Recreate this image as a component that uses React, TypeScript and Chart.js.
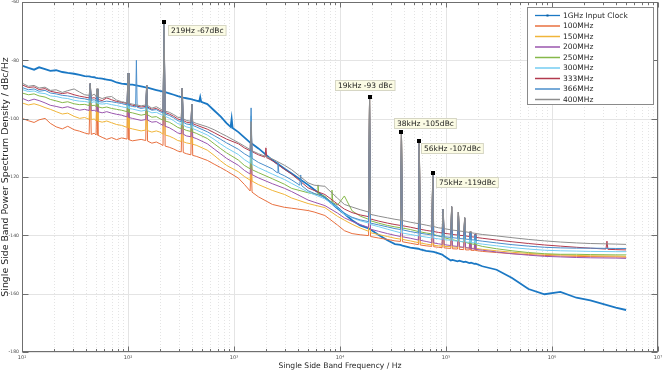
import React, { useEffect, useRef } from 'react';
import { Chart, registerables } from 'chart.js';
Chart.register(...registerables);

const _ = null;

// Shared frequency grid (Hz)
const freqs = [
  10, 11.5, 13, 14.5, 16.5, 18.5, 21, 24, 27, 31,
  35, 39, 43, 44, 45, 48, 50, 51, 52, 57,
  63, 70, 78, 87, 98, 100, 102, 110, 118, 120,
  122, 133, 147, 150, 153, 168, 185, 200, 214, 219,
  224, 245, 270, 295, 318, 325, 332, 355, 392, 400,
  408, 440, 470, 480, 490, 560, 650, 750, 850, 930,
  950, 970, 1100, 1250, 1420, 1450, 1480, 1700, 1960, 2000,
  2040, 2300, 2550, 2600, 2650, 3000, 3500, 4170, 4260, 4350,
  5000, 5700, 6080, 6200, 6320, 7200, 8230, 8400, 8570, 9500,
  11000, 13000, 15500, 18600, 19000, 19400, 23000, 28000, 33000, 37200,
  38000, 38800, 46000, 54900, 56000, 57100, 65000, 73500, 75000, 76500,
  85000, 92000, 94000, 96000, 111000, 113000, 115000, 128500, 131000, 133500,
  147000, 150000, 153000, 166000, 169000, 172000, 185000, 188000, 191000, 220000,
  300000, 420000, 600000, 850000, 1200000, 1700000, 2300000, 3230000, 3300000, 3370000,
  4000000, 5000000,
];

const clock1G = [
  -81.8, -82.6, -83.2, -82.4, -83, -83.6, -83.4, -84, -84.3, -84.6,
  -85, -85.4, -85.5, _, -85.7, -85.8, -86, _, -86.1, -86.3,
  -86.6, -86.9, -87.6, -88, -88.2, _, -88.3, -88.3, _, _,
  _, -88.9, -89.3, _, -89.4, -89.8, -90.2, -90.5, -90.7, _,
  -90.9, -91.3, -91.8, -92.3, -92.6, _, -92.8, -93, -93.3, _,
  -93.5, -93.8, -94.1, -92.6, -94.2, -95, -97.2, -99.3, -101.5, -102.8,
  -100, -103.2, -104.6, -106.4, -108.2, _, -108.6, -110.2, _, _,
  _, -114.2, _, _, _, -117.2, -118.8, _, _, _,
  -122.7, -124.3, _, _, _, -127, _, _, _, -130.8,
  -132.6, -134.8, -136.6, -137.6, _, -138, -139.8, -141.7, -143, -143.3,
  _, -143.5, -144.2, -144.6, _, -144.8, -145.3, -145.6, _, -145.7,
  -146.2, -146.6, _, -147.1, -148.6, _, -148.4, -148.9, _, -148.7,
  -149.2, _, -149, -149.5, _, -149.4, -149.8, _, -149.7, -150.6,
  -151.8, -154.6, -158.4, -160.2, -159.4, -161.4, -162.3, _, _, _,
  -164.8, -165.6,
];

const s100 = [
  -99.9, -100.7, -101.3, -100.4, -99.9, -101.6, -102.8, -103.5, -102.6, -103.8,
  -104.3, -104.9, -105.3, -88, -105.4, -105, -105.6, -89.8, -105.7, -106.4,
  -107.1, -106.5, -107.2, -106.6, -107, -84.5, -107.2, -107.6, _, _,
  _, -107.1, -107.5, -88.5, -107.7, -108.4, -108, -108.6, -109.2, -67,
  -109.4, -109.8, -110.4, -111.1, -111.4, -89.6, -111.6, -112, -112.4, -95,
  -112.6, -112.9, _, _, _, -114.3, -115.6, -116.8, -117.9, _,
  _, _, -120.4, -122.5, -124.8, -114, -125.2, -126.8, _, _,
  _, -129.4, _, _, _, -130.4, -130.7, _, _, _,
  -131.5, -132, _, _, _, -133.2, _, _, _, -136.5,
  -138.4, -139.4, -139.8, -140.1, -92.7, -140.4, -140.9, -141.4, -141.9, -142.1,
  -104.7, -142.2, -142.7, -143.2, -107.6, -143.3, -143.6, -143.8, -118.5, -143.9,
  -144.1, -144.2, -131, -144.3, -144.5, -130.2, -144.6, -144.7, -132, -144.8,
  -144.9, -134, -145, -145, -138.9, -145.1, -145.2, -139.8, -145.2, -145.5,
  -145.9, -146.3, -146.6, -146.9, -147.1, -147.2, -147.3, _, _, _,
  -147.4, -147.5,
];

const s150 = [
  -94.6, -95.3, -94.9, -95.4, -96.2, -96.8, -97.6, -98.4, -98.1, -99.2,
  -99.9, -99.6, -100.2, -88, -100.3, -100.1, -100.7, -89.8, -100.8, -101.2,
  -100.8, -101.4, -102, -102.3, -103, -84.5, -103.2, -103.5, _, _,
  _, -104.2, -103.9, -88.5, -104.1, -104.6, -104.2, -104.6, -105.3, -67,
  -105.6, -106, -106.7, -107.5, -107.8, -89.6, -107.9, -108.3, -108.6, -95,
  -108.8, -109.1, _, _, _, -110.8, -112.6, -114.5, -116, _,
  _, _, -118.2, -119.8, -121.1, -112, -121.4, -122.6, _, _,
  _, -124.6, _, _, _, -126, -127.2, _, _, _,
  -129.1, -129.6, _, _, _, -130.5, _, _, _, -133.5,
  -134.8, -136.2, -137.5, -138.6, -92.7, -139.1, -139.7, -140.4, -141, -141.3,
  -104.7, -141.4, -141.9, -142.5, -107.6, -142.6, -143, -143.3, -118.5, -143.4,
  -143.6, -143.7, -131, -143.8, -143.9, -130.2, -144, -144.1, -132, -144.1,
  -144.2, -134, -144.3, -144.3, -138.9, -144.4, -144.5, -139.8, -144.5, -144.8,
  -145.3, -145.8, -146.2, -146.5, -146.7, -146.9, -147, _, _, _,
  -147.1, -147.2,
];

const s200 = [
  -93, -93.9, -93.3, -93.8, -94.6, -95.4, -95.8, -96.3, -95.9, -96.6,
  -97.1, -96.8, -97.2, -88, -97.3, -97.1, -97.5, -89.8, -97.6, -98,
  -97.6, -98.1, -98.5, -98.8, -99.4, -84.5, -99.6, -99.9, _, _,
  _, -100.6, -100.3, -88.5, -100.5, -101.2, -101, -101.7, -102.3, -67,
  -102.6, -103.1, -104, -104.9, -105.2, -89.6, -105.3, -105.9, -106.2, -95,
  -106.4, -106.8, _, _, _, -108.6, -110.4, -112.1, -113.6, _,
  _, _, -116, -117.7, -119, -110, -119.2, -120.3, _, _,
  _, -122.3, _, _, _, -123.9, -125, _, _, _,
  -127.9, -128.6, _, _, _, -129.8, _, _, _, -132.4,
  -134, -135.2, -136.3, -137.3, -92.7, -137.9, -138.6, -139.4, -140, -140.4,
  -104.7, -140.5, -141, -141.6, -107.6, -141.7, -142.1, -142.5, -118.5, -142.6,
  -142.9, -143.1, -131, -143.2, -143.5, -130.2, -143.6, -143.8, -132, -143.9,
  -144.1, -134, -144.2, -144.4, -138.9, -144.5, -144.7, -139.8, -144.8, -145.1,
  -145.7, -146.3, -146.8, -147.2, -147.4, -147.6, -147.7, _, _, _,
  -147.8, -147.9,
];

const s250 = [
  -91.2, -91.8, -91.5, -92.2, -92.6, -93.4, -93.9, -94.5, -94.2, -94.9,
  -95.2, -95.1, -95.5, -88, -95.6, -95.4, -95.8, -89.8, -95.9, -96.3,
  -96, -96.5, -96.8, -97.1, -97.6, -84.5, -97.8, -98, _, _,
  _, -98.8, -98.5, -88.5, -98.7, -99.5, -99.3, -100, -100.5, -67,
  -100.8, -101.2, -102.1, -103, -103.4, -89.6, -103.5, -104, -104.4, -95,
  -104.6, -105, _, _, _, -106.8, -108.6, -110.3, -111.7, _,
  _, _, -114.2, -116, -117.2, -108, -117.5, -118.5, _, _,
  _, -120.6, _, _, _, -122.5, -123.9, _, _, _,
  -125.4, -125.8, -126, -122.7, -126.1, -126.6, -128.6, -124.5, -128.8, -129.6,
  -126.5, -131.6, -133.4, -134.5, -92.7, -135, -135.8, -136.6, -137.1, -137.4,
  -104.7, -137.5, -138, -138.7, -107.6, -138.8, -139.2, -139.5, -118.5, -139.7,
  -140.2, -140.6, -131, -140.8, -141.4, -130.2, -141.5, -141.9, -132, -142,
  -142.3, -134, -142.4, -142.8, -138.9, -142.9, -143.1, -139.8, -143.2, -143.8,
  -144.6, -145.3, -145.9, -146.3, -146.5, -146.5, -146.6, _, _, _,
  -146.7, -146.7,
];

const s300 = [
  -90, -90.7, -90.5, -91.2, -91.4, -92.2, -92.4, -92.9, -93.1, -93.7,
  -94, -94.1, -94.4, -88, -94.5, -94.2, -94.7, -89.8, -94.8, -95,
  -94.8, -95.2, -95.5, -95.9, -96.3, -84.5, -96.5, -96.7, _, _,
  _, -97.4, -97.1, -88.5, -97.3, -98, -97.8, -98.4, -98.9, -67,
  -99.2, -99.8, -100.7, -101.7, -102, -89.6, -102.2, -102.8, -103.2, -95,
  -103.4, -103.9, _, _, _, -105.6, -107.1, -108.7, -110, _,
  _, _, -112.3, -114, -115.3, -99, -115.6, -116.8, _, _,
  _, -119, _, _, _, -120.9, -122.2, _, _, _,
  -125.2, -126, _, _, _, -127.5, _, _, _, -130.6,
  -132.8, -134, -135, -135.8, -92.7, -136.3, -137, -137.9, -138.6, -139.1,
  -104.7, -139.2, -139.7, -140.2, -107.6, -140.3, -140.6, -140.9, -118.5, -141,
  -141.2, -141.4, -131, -141.5, -141.7, -130.2, -141.8, -142, -132, -142.1,
  -142.2, -134, -142.3, -142.4, -138.9, -142.5, -142.6, -139.8, -142.7, -143,
  -143.6, -144.2, -144.7, -145.1, -145.3, -145.4, -145.5, _, _, _,
  -145.6, -145.6,
];

const s333 = [
  -88.4, -89.3, -89.1, -90, -89.7, -90.6, -91, -91.4, -91.1, -91.8,
  -92.3, -92.6, -92.9, -88, -93, -92.8, -93.3, -89.8, -93.4, -93.8,
  -92.9, -93.5, -94.1, -94.4, -94.8, -84.5, -95, -95.4, _, _,
  _, -96, -95.8, -88.5, -96, -96.8, -96.5, -97.2, -97.6, -67,
  -97.9, -98.4, -99.2, -100.1, -100.5, -89.6, -100.6, -101.2, -101.5, -95,
  -101.7, -102.2, _, _, _, -103.6, -104.8, -106, -107, _,
  _, _, -108.6, -110, -111, -103, -111.3, -112.4, -113.2, -110,
  -113.4, -114.4, _, _, _, -117.4, -119, _, _, _,
  -123.7, -124.6, _, _, _, -126, _, _, _, -129.3,
  -131, -132.2, -133, -133.6, -92.7, -134.4, -135.1, -135.8, -136.3, -136.6,
  -104.7, -136.7, -137.2, -137.8, -107.6, -137.9, -138.3, -138.6, -118.5, -138.7,
  -139, -139.2, -131, -139.3, -139.6, -130.2, -139.7, -139.9, -132, -140,
  -140.1, -134, -140.2, -140.4, -138.8, -140.5, -140.6, -139.6, -140.7, -141,
  -141.6, -142.2, -142.8, -143.3, -143.7, -144.1, -144.4, -144.7, -142, -144.8,
  -144.9, -145,
];

const s366 = [
  -89.3, -90.1, -89.8, -90.6, -90.3, -91.2, -91.5, -92, -92.2, -92.6,
  -93, -93.2, -93.6, -88, -93.7, -93.5, -94, -89.8, -94.1, -94.3,
  -94, -94.2, -94.5, -94.8, -95.3, -84.5, -95.5, -95.8, -96, -80,
  -96.1, -96.5, -96.2, -88.5, -96.4, -97.1, -96.9, -97.6, -98, -67,
  -98.4, -98.9, -99.7, -100.7, -101, -89.6, -101.2, -101.8, -102.1, -95,
  -102.3, -102.8, _, _, _, -104.5, -105.8, -107.1, -108.3, _,
  _, _, -110.5, -112, -113.2, -96.3, -113.6, -115, _, _,
  _, -117.2, -118.5, -115, -118.7, -119.6, -121, -122.8, -119.3, -123,
  -124.7, -125.6, _, _, _, -127, _, _, _, -130.2,
  -132.4, -133.8, -134.7, -135.3, -92.7, -135.8, -136.4, -137.1, -137.7, -138,
  -104.7, -138.1, -138.7, -139.2, -107.6, -139.3, -139.6, -139.9, -118.5, -140,
  -140.2, -140.4, -131, -140.5, -140.7, -130.2, -140.8, -141, -132, -141.1,
  -141.2, -134, -141.3, -141.4, -138.9, -141.5, -141.6, -139.8, -141.7, -142,
  -142.6, -143.2, -143.7, -144.1, -144.3, -144.4, -144.4, _, _, _,
  -144.5, -144.5,
];

const s400 = [
  -87.8, -88.9, -88.6, -89.5, -89.2, -90.3, -90.1, -91, -90.4, -89.8,
  -90.9, -91.8, -92, -88, -92.2, -91.6, -92.4, -89.8, -92.5, -93.1,
  -92.6, -92.4, -93.6, -94.2, -94.6, -84.5, -94.8, -95, _, _,
  _, -95.6, -95.3, -88.5, -95.5, -96.4, -95.9, -96.6, -97.2, -67,
  -97.4, -97.8, -98.6, -99.5, -99.8, -89.6, -100, -100.6, -100.9, -95,
  -101.1, -101.6, _, _, _, -102.8, -103.8, -105, -106, _,
  _, _, -108.2, -109.4, -110.6, -101, -111, -112, _, _,
  _, -113.8, _, _, _, -116, -117.5, _, _, _,
  -122, -122.8, _, _, _, -123.2, _, _, _, -127.3,
  -129.4, -130.3, -131.2, -132, -92.7, -132.8, -133.4, -134, -134.5, -134.8,
  -104.7, -134.9, -135.5, -136, -107.6, -136.1, -136.5, -136.9, -118.5, -137,
  -137.4, -137.6, -131, -137.7, -138.1, -130.2, -138.2, -138.4, -132, -138.5,
  -138.7, -134, -138.8, -139, -138.6, -139.1, -139.3, -139.2, -139.4, -139.7,
  -140.2, -140.8, -141.4, -141.9, -142.3, -142.6, -142.8, _, _, _,
  -143, -143.1,
];

const seriesNames = ['1GHz Input Clock', '100MHz', '150MHz', '200MHz', '250MHz', '300MHz', '333MHz', '366MHz', '400MHz'];
const seriesColors = ['#1b78c4', '#e8703f', '#f0b53a', '#9a56ae', '#86b84a', '#74cdf2', '#b23a4e', '#4a8ecb', '#8e8e8e'];

const xMajorTicks = [10, 100, 1000, 10000, 100000, 1000000, 10000000];
const xTickLabels = ['10\u00B9', '10\u00B2', '10\u00B3', '10\u2074', '10\u2075', '10\u2076', '10\u2077'];
const yTickValues = [-180, -160, -140, -120, -100, -80, -60];
const yTickLabels = ['-180', '-160', '-140', '-120', '-100', '-80', '-60'];

const annFreqs = [219, 19000, 38000, 56000, 75000];
const annLevels = [-67, -92.7, -104.7, -107.6, -118.5];
const annTexts = ['219Hz -67dBc', '19kHz -93 dBc', '38kHz -105dBc', '56kHz -107dBc', '75kHz -119dBc'];
const annOffsets = [[4, 3], [-35, -17], [-7, -14.5], [2, 2.3], [3, 4]];

const FONT = '"DejaVu Sans", Verdana, sans-serif';

const decor = {
  id: 'decor',
  beforeDatasetsDraw(chart: any) {
    const { ctx, chartArea: a, scales } = chart;
    const x = scales.x, y = scales.y;
    ctx.save();
    ctx.lineWidth = 1;
    ctx.strokeStyle = '#e4e4e4';
    ctx.setLineDash([1, 2]);
    for (let d = 0; d < xMajorTicks.length - 1; d++) {
      for (let m = 2; m <= 9; m++) {
        const px = Math.round(x.getPixelForValue(xMajorTicks[d] * m)) + 0.5;
        ctx.beginPath(); ctx.moveTo(px, a.top); ctx.lineTo(px, a.bottom); ctx.stroke();
      }
    }
    ctx.setLineDash([]);
    ctx.strokeStyle = '#e4e4e4';
    for (const v of xMajorTicks) {
      const px = Math.round(x.getPixelForValue(v)) + 0.5;
      ctx.beginPath(); ctx.moveTo(px, a.top); ctx.lineTo(px, a.bottom); ctx.stroke();
    }
    for (const v of yTickValues) {
      const py = Math.round(y.getPixelForValue(v)) + 0.5;
      ctx.beginPath(); ctx.moveTo(a.left, py); ctx.lineTo(a.right, py); ctx.stroke();
    }
    ctx.restore();
  },
  afterDatasetsDraw(chart: any) {
    const { ctx, chartArea: a, scales } = chart;
    const x = scales.x, y = scales.y;
    ctx.save();
    ctx.strokeStyle = '#6f6f6f';
    ctx.lineWidth = 1;
    const L = Math.round(a.left) + 0.5, R = Math.round(a.right) - 0.5;
    const T = Math.round(a.top) + 0.5, B = Math.round(a.bottom) - 0.5;
    ctx.strokeRect(L, T, R - L, B - T);
    for (let d = 0; d < xMajorTicks.length; d++) {
      const px = Math.round(x.getPixelForValue(xMajorTicks[d])) + 0.5;
      ctx.beginPath(); ctx.moveTo(px, B); ctx.lineTo(px, B - 5); ctx.moveTo(px, T); ctx.lineTo(px, T + 5); ctx.stroke();
      if (d < xMajorTicks.length - 1) {
        for (let m = 2; m <= 9; m++) {
          const qx = Math.round(x.getPixelForValue(xMajorTicks[d] * m)) + 0.5;
          ctx.beginPath(); ctx.moveTo(qx, B); ctx.lineTo(qx, B - 2.5); ctx.moveTo(qx, T); ctx.lineTo(qx, T + 2.5); ctx.stroke();
        }
      }
    }
    for (const v of yTickValues) {
      const py = Math.round(y.getPixelForValue(v)) + 0.5;
      ctx.beginPath(); ctx.moveTo(L, py); ctx.lineTo(L + 6, py); ctx.moveTo(R, py); ctx.lineTo(R - 6, py); ctx.stroke();
    }
    // annotations
    ctx.font = `7.5px ${FONT}`;
    ctx.textBaseline = 'middle';
    ctx.textAlign = 'left';
    for (let i = 0; i < annFreqs.length; i++) {
      const mx = x.getPixelForValue(annFreqs[i]);
      const my = y.getPixelForValue(annLevels[i]);
      ctx.fillStyle = '#000';
      ctx.fillRect(Math.round(mx) - 2, Math.round(my) - 2, 4, 4);
      const w = ctx.measureText(annTexts[i]).width + 5;
      const bx = Math.round(mx + annOffsets[i][0]) + 0.5;
      const by = Math.round(my + annOffsets[i][1]) + 0.5;
      ctx.fillStyle = '#fbfbe4';
      ctx.fillRect(bx, by, w, 10);
      ctx.strokeStyle = '#d6d6c4';
      ctx.strokeRect(bx, by, w, 10);
      ctx.fillStyle = '#1a1a1a';
      ctx.fillText(annTexts[i], bx + 2.5, by + 5.5);
    }
    // legend
    const lx = 527.5, ly = 7.5, lw = 126, lh = 97;
    ctx.fillStyle = '#ffffff';
    ctx.fillRect(lx, ly, lw, lh);
    ctx.strokeStyle = '#8a8a8a';
    ctx.lineWidth = 1;
    ctx.strokeRect(lx, ly, lw, lh);
    for (let i = 0; i < seriesNames.length; i++) {
      const yy = 15.5 + i * 10.5;
      ctx.strokeStyle = seriesColors[i];
      ctx.lineWidth = i === 0 ? 1.3 : 1.5;
      ctx.beginPath(); ctx.moveTo(535, yy); ctx.lineTo(560, yy); ctx.stroke();
      if (i === 0) {
        ctx.fillStyle = '#0f5ea0';
        ctx.fillRect(546.5, yy - 1, 2, 2);
      }
      ctx.fillStyle = '#262626';
      ctx.fillText(seriesNames[i], 563, yy + 0.5);
    }
    ctx.restore();
  },
};

export default function App() {
  const ref = useRef<HTMLCanvasElement | null>(null);
  useEffect(() => {
    document.body.style.margin = '0';
    Chart.defaults.font.family = FONT;
    const seriesData = [clock1G, s100, s150, s200, s250, s300, s333, s366, s400];
    const datasets = seriesData.map((arr, i) => ({
      label: seriesNames[i],
      data: freqs.map((f, j) => ({ x: f, y: arr[j] })).filter((p) => p.y !== null),
      borderColor: seriesColors[i],
      backgroundColor: seriesColors[i],
      borderWidth: i === 0 ? 1.8 : 1,
      pointRadius: 0,
      fill: false,
      tension: 0,
      order: seriesData.length - i,
    }));
    const chart = new Chart(ref.current as HTMLCanvasElement, {
      type: 'line',
      data: { datasets },
      plugins: [decor],
      options: {
        responsive: false,
        animation: false,
        devicePixelRatio: 1,
        layout: { padding: { top: 2, right: 6, left: 0, bottom: 0 } },
        plugins: { legend: { display: false }, tooltip: { enabled: false } },
        scales: {
          x: {
            type: 'logarithmic',
            min: 10,
            max: 1e7,
            afterBuildTicks: (s: any) => { s.ticks = xMajorTicks.map((v) => ({ value: v, major: true })); },
            ticks: {
              autoSkip: false, maxRotation: 0, minRotation: 0, padding: 3,
              color: '#4d4d4d', font: { size: 5 },
              callback: (_v: any, i: number) => xTickLabels[i] ?? '',
            },
            grid: { display: false, drawTicks: false },
            border: { display: false },
            title: { display: true, text: 'Single Side Band Frequency / Hz', color: '#262626', font: { size: 7.6 }, padding: { top: 0, bottom: 2.5 } },
            afterFit: (s: any) => { s.height = 21; s.paddingLeft = 0; s.paddingRight = 0; },
          },
          y: {
            type: 'linear',
            min: -180,
            max: -60,
            afterBuildTicks: (s: any) => { s.ticks = yTickValues.map((v) => ({ value: v })); },
            ticks: {
              padding: 3, color: '#4d4d4d', font: { size: 4.6 },
              callback: (_v: any, i: number) => yTickLabels[i] ?? '',
            },
            grid: { display: false, drawTicks: false },
            border: { display: false },
            title: { display: true, text: 'Single Side Band Power Spectrum Density / dBc/Hz', color: '#262626', font: { size: 9.4 }, padding: { top: 0, bottom: 0 } },
            afterFit: (s: any) => { s.width = 22; s.paddingTop = 0; s.paddingBottom = 0; },
          },
        },
      } as any,
    });
    return () => chart.destroy();
  }, []);
  return (
    <div style={{ position: 'fixed', left: 0, top: 0, width: 664, height: 373, background: '#fff' }}>
      <canvas ref={ref} width={664} height={373} style={{ display: 'block' }} />
    </div>
  );
}
